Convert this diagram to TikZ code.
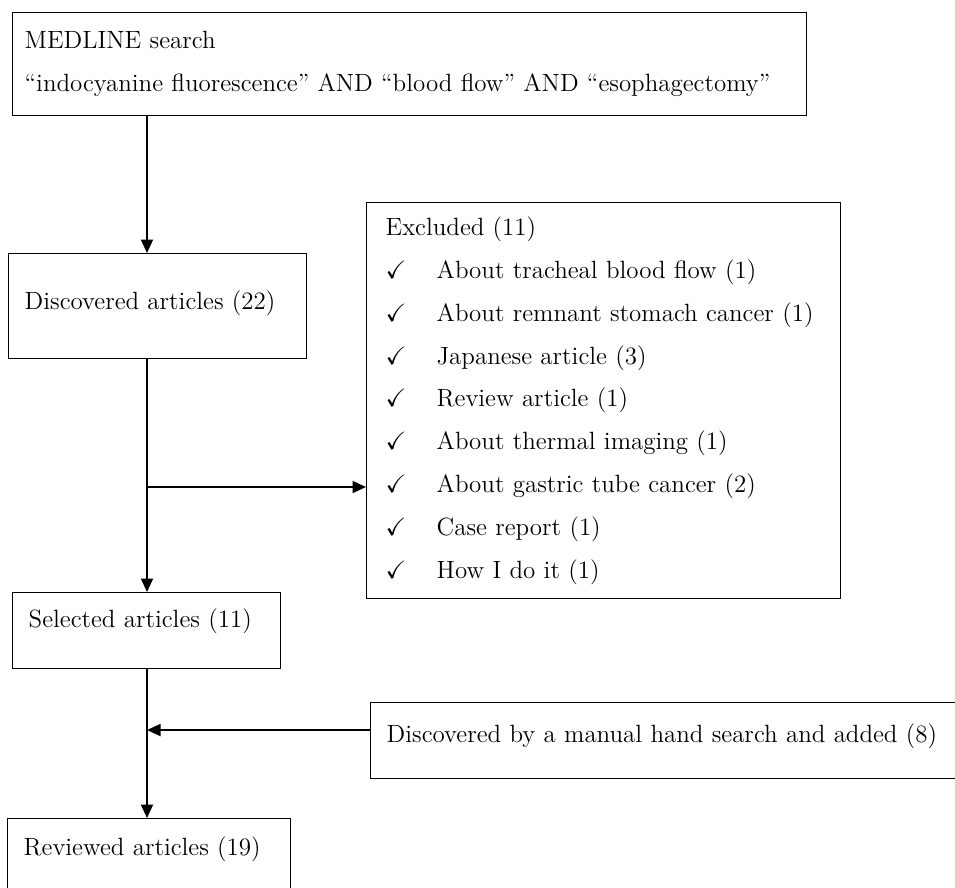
\documentclass[tikz,border=0pt]{standalone}
\usepackage{amssymb}
\usepackage{tikz}
\usetikzlibrary{arrows.meta, positioning}

\tikzset{
    box/.style={draw, line width=0.8pt, anchor=north west, align=left,
        inner xsep=0.32cm, inner ysep=0pt,
        font=\fontsize{14.2}{24.4}\selectfont},
    flow/.style={line width=1.1pt, -{Triangle[length=0.27cm, width=0.24cm]}},
}
\newcommand{\tick}{\makebox[1.02cm][l]{$\checkmark$}}

\begin{document}
\begin{tikzpicture}[x=0.02cm, y=-0.02cm]
                        \clip (0, 0) rectangle (955, 887);
                        \node[box, inner xsep=0.24cm, text width=15.4cm, minimum height=2.06cm] (search) at (12, 12)
                        {MEDLINE search\\``indocyanine fluorescence'' AND ``blood flow'' AND ``esophagectomy''};
                        \node[box, text width=5.32cm, text height=1.12cm, text depth=0.98cm] (disc) at (8, 253) {Discovered articles (22)};
                        \node[box, inner xsep=0.38cm, text width=8.72cm, minimum height=7.92cm] (excl) at (366, 202)
                        {Excluded (11)\\
                        \tick About tracheal blood flow (1)\\
                        \tick About remnant stomach cancer (1)\\
                        \tick Japanese article (3)\\
                        \tick Review article (1)\\
                        \tick About thermal imaging (1)\\
                        \tick About gastric tube cancer (2)\\
                        \tick Case report (1)\\
                        \tick How I do it (1)};
                        \node[box, text width=4.72cm, text height=0.7cm, text depth=0.82cm] (sel) at (12, 592) {Selected articles (11)};
                        \node[box, text width=11.2cm, text height=0.8cm, text depth=0.72cm] (add) at (370, 702) {Discovered by a manual hand search and added (8)};
                        \node[box, text width=5.02cm, text height=0.74cm, text depth=0.78cm] (rev) at (7, 818) {Reviewed articles (19)};

                        \coordinate (spine) at (147, 0);
                        \coordinate (branch) at (147, 487);
                        \coordinate (join) at (147, 730);

                        \draw[flow] (spine |- search.south) -- (spine |- disc.north);
                        \draw[line width=1.1pt] (spine |- disc.south) -- (branch);
                        \draw[flow] (branch) -- (spine |- sel.north);
                        \draw[flow] (branch) -- (branch -| excl.west);
                        \draw[line width=1.1pt] (spine |- sel.south) -- (join);
                        \draw[flow] (join) -- (spine |- rev.north);
                        \draw[flow] (join -| add.west) -- (join);
                    \end{tikzpicture}
\end{document}
